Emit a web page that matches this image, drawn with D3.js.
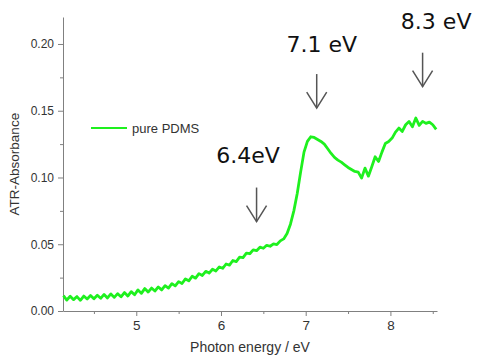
<!DOCTYPE html>
<html>
<head>
<meta charset="utf-8">
<script src="https://cdn.jsdelivr.net/npm/d3@7"></script>
<style>
    body { margin: 0; background: #fff; }
    svg { display: block; }
    .axis path, .axis line { stroke: #808080; }
    .axis text { fill: #333; font-family: Arial, "Liberation Sans", sans-serif; }
</style>
</head>
<body>
<svg id="chart"></svg>
<script>
// photon energy (eV) and ATR absorbance
var energy = [
    4.14, 4.18, 4.22, 4.26, 4.30, 4.34, 4.38, 4.42, 4.46, 4.50,
    4.54, 4.58, 4.62, 4.66, 4.70, 4.74, 4.78, 4.82, 4.86, 4.90,
    4.94, 4.98, 5.02, 5.06, 5.10, 5.14, 5.18, 5.22, 5.26, 5.30,
    5.34, 5.38, 5.42, 5.46, 5.50, 5.54, 5.58, 5.62, 5.66, 5.70,
    5.74, 5.78, 5.82, 5.86, 5.90, 5.94, 5.98, 6.02, 6.06, 6.10,
    6.14, 6.18, 6.22, 6.26, 6.30, 6.34, 6.38, 6.42, 6.46, 6.50,
    6.54, 6.58, 6.62, 6.66, 6.70, 6.74, 6.78, 6.82, 6.86, 6.90,
    6.94, 6.98, 7.02, 7.06, 7.10, 7.14, 7.18, 7.22, 7.26, 7.30,
    7.34, 7.38, 7.42, 7.46, 7.50, 7.54, 7.58, 7.62, 7.66, 7.70,
    7.74, 7.78, 7.82, 7.86, 7.90, 7.94, 7.98, 8.02, 8.06, 8.10,
    8.14, 8.18, 8.22, 8.26, 8.30, 8.34, 8.38, 8.42, 8.46, 8.50,
    8.54
];
var absorbance = [
    0.0115, 0.0082, 0.0110, 0.0085, 0.0108, 0.0080, 0.0112, 0.0090, 0.0116, 0.0092,
    0.0118, 0.0095, 0.0124, 0.0098, 0.0128, 0.0102, 0.0130, 0.0106, 0.0138, 0.0112,
    0.0145, 0.0122, 0.0158, 0.0132, 0.0168, 0.0142, 0.0172, 0.0150, 0.0180, 0.0158,
    0.0190, 0.0172, 0.0205, 0.0188, 0.0220, 0.0206, 0.0240, 0.0226, 0.0260, 0.0246,
    0.0280, 0.0266, 0.0297, 0.0284, 0.0313, 0.0300, 0.0330, 0.0320, 0.0352, 0.0344,
    0.0378, 0.0370, 0.0404, 0.0400, 0.0434, 0.0429, 0.0458, 0.0452, 0.0478, 0.0470,
    0.0492, 0.0485, 0.0503, 0.0498, 0.0525, 0.0540, 0.0580, 0.0650, 0.0750, 0.0880,
    0.1040, 0.1190, 0.1270, 0.1305, 0.1300, 0.1285, 0.1270, 0.1250, 0.1215, 0.1180,
    0.1150, 0.1130, 0.1115, 0.1095, 0.1075, 0.1060, 0.1045, 0.1040, 0.0995, 0.1070,
    0.1010, 0.1080, 0.1155, 0.1120, 0.1190, 0.1255, 0.1270, 0.1295, 0.1340, 0.1370,
    0.1345, 0.1395, 0.1420, 0.1380, 0.1445, 0.1390, 0.1420, 0.1405, 0.1415, 0.1395,
    0.1360
];

var xTicks = [5, 6, 7, 8];
var xMinorTicks = [4.5, 5.5, 6.5, 7.5, 8.5];
var yTicks = [0, 0.05, 0.10, 0.15, 0.20];
var yMinorTicks = [0.025, 0.075, 0.125, 0.175];

// peak markers: label, arrow energy, arrow tip, label centre energy, label baseline
var peakLabels = ['6.4eV', '7.1 eV', '8.3 eV'];
var peakEnergy = [6.42, 7.13, 8.38];
var peakTip = [0.067, 0.152, 0.168];
var peakTextEnergy = [6.32, 7.19, 8.54];
var peakTextY = [0.111, 0.194, 0.211];

var width = 477,
    height = 356,
    margin = {top: 17, left: 63, right: 40, bottom: 45},
    innerWidth = width - margin.left - margin.right,
    innerHeight = height - margin.top - margin.bottom;

var svg = d3.select('#chart')
    .attr('width', width)
    .attr('height', height);

var chart = svg.append('g')
    .attr('transform', 'translate(' + margin.left + ', ' + margin.top + ')');

var x = d3.scaleLinear()
    .domain([4.135, 8.55])
    .range([0, innerWidth]);

var y = d3.scaleLinear()
    .domain([0, 0.2202])
    .range([innerHeight, 0]);

// minor ticks only, no labels
function minorOnly(g) {
    g.select('.domain').remove();
    g.selectAll('text').remove();
}

chart.append('g')
    .attr('class', 'x axis')
    .attr('transform', 'translate(0,' + innerHeight + ')')
    .call(d3.axisBottom(x).tickValues(xMinorTicks).tickSize(3))
    .call(minorOnly);

chart.append('g')
    .attr('class', 'x axis')
    .attr('transform', 'translate(0,' + innerHeight + ')')
    .call(d3.axisBottom(x).tickValues(xTicks).tickSize(5).tickPadding(4).tickSizeOuter(0)
        .tickFormat(d3.format('d')))
    .selectAll('text')
    .style('font-size', '13.5px');

chart.append('g')
    .attr('class', 'y axis')
    .call(d3.axisLeft(y).tickValues(yMinorTicks).tickSize(3))
    .call(minorOnly);

chart.append('g')
    .attr('class', 'y axis')
    .call(d3.axisLeft(y).tickValues(yTicks).tickSize(5).tickPadding(4).tickSizeOuter(0)
        .tickFormat(d3.format('.2f')))
    .selectAll('text')
    .style('font-size', '12px');

// axis titles
chart.append('text')
    .attr('x', innerWidth / 2)
    .attr('y', innerHeight + 41)
    .style('text-anchor', 'middle')
    .style('font-family', 'Arial, "Liberation Sans", sans-serif')
    .style('font-size', '14px')
    .style('fill', '#333')
    .text('Photon energy / eV');

chart.append('text')
    .attr('transform', 'rotate(-90)')
    .attr('x', -(y(0.11)))
    .attr('y', -44)
    .style('text-anchor', 'middle')
    .style('font-family', 'Arial, "Liberation Sans", sans-serif')
    .style('font-size', '13.5px')
    .style('fill', '#333')
    .text('ATR-Absorbance');

// spectrum
var points = energy.map(function (e, i) {
    return {e: e, a: absorbance[i]};
});

var line = d3.line()
    .x(function (d) { return x(d.e); })
    .y(function (d) { return y(d.a); });

chart.append('path')
    .datum(points)
    .attr('fill', 'none')
    .attr('stroke', '#1ef01e')
    .attr('stroke-width', 2.8)
    .attr('stroke-linejoin', 'round')
    .attr('d', line);

// legend
var legend = chart.append('g')
    .attr('transform', 'translate(28, 111)');

legend.append('line')
    .attr('x1', 0)
    .attr('x2', 36)
    .attr('stroke', '#1ef01e')
    .attr('stroke-width', 2);

legend.append('text')
    .attr('x', 41)
    .attr('y', 4.5)
    .style('font-family', 'Arial, "Liberation Sans", sans-serif')
    .style('font-size', '13px')
    .style('fill', '#333')
    .text('pure PDMS');

// peak arrows and labels
var arrowLen = 34;
peakLabels.forEach(function (label, i) {
    var ax = x(peakEnergy[i]),
        tip = y(peakTip[i]);
    var g = chart.append('g')
        .attr('stroke', '#555')
        .attr('stroke-width', 1.5)
        .attr('fill', 'none');
    g.append('line')
        .attr('x1', ax).attr('x2', ax)
        .attr('y1', tip - arrowLen).attr('y2', tip);
    g.append('path')
        .attr('d', 'M' + (ax - 10) + ',' + (tip - 16) + 'L' + ax + ',' + tip + 'L' + (ax + 10) + ',' + (tip - 16));

    chart.append('text')
        .attr('x', x(peakTextEnergy[i]))
        .attr('y', y(peakTextY[i]))
        .style('text-anchor', 'middle')
        .style('font-family', 'Verdana, "DejaVu Sans", sans-serif')
        .style('font-size', '22px')
        .style('fill', '#111')
        .text(label);
});
</script>
</body>
</html>
